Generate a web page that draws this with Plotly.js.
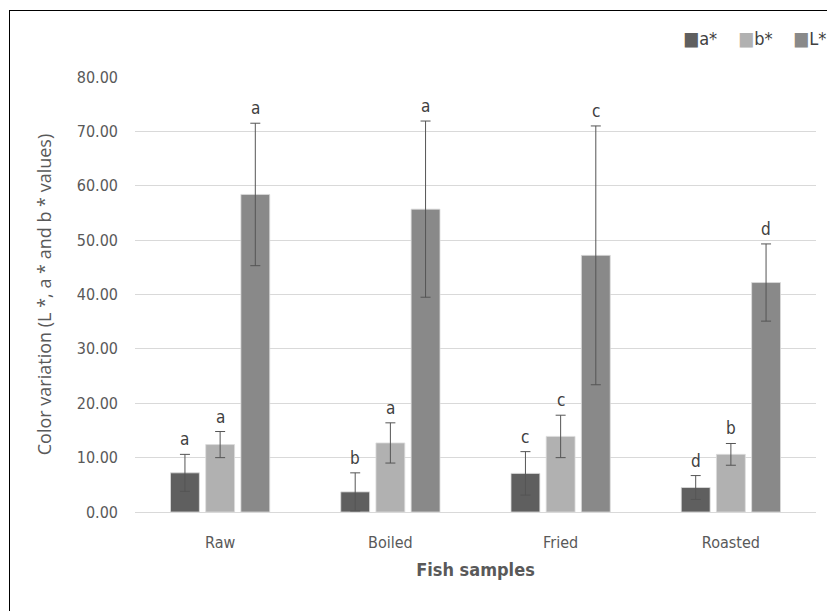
<!DOCTYPE html>
<html><head><meta charset="utf-8">
<script src="https://cdn.plot.ly/plotly-3.0.1.min.js"></script>
<style>
html,body{margin:0;padding:0;background:#fff;}
#wrap{position:relative;width:827px;height:611px;overflow:hidden;}
#chart{width:827px;height:611px;}
#frame{position:absolute;left:9px;top:10px;width:900px;height:700px;border:1px solid #000;pointer-events:none;box-sizing:border-box;}
</style></head>
<body><div id="wrap"><div id="chart"></div><div id="frame"></div></div>
<script>
const categories = ["Raw", "Boiled", "Fried", "Roasted"];
const aStar = [7.2, 3.7, 7.1, 4.5];
const aStarErr = [3.4, 3.5, 4.0, 2.2];
const bStar = [12.4, 12.7, 13.9, 10.6];
const bStarErr = [2.4, 3.7, 3.9, 2.0];
const lStar = [58.4, 55.7, 47.2, 42.2];
const lStarErr = [13.1, 16.2, 23.8, 7.1];
const aLetters = ["a", "b", "c", "d"];
const bLetters = ["a", "a", "c", "b"];
const lLetters = ["a", "a", "c", "d"];
const seriesNames = ["a*", "b*", "L*"];
const colors = ["#5f5f5f", "#b1b1b1", "#898989"];

const values = [aStar, bStar, lStar];
const errs = [aStarErr, bStarErr, lStarErr];
const letters = [aLetters, bLetters, lLetters];

const narrow = "DejaVu Sans Condensed, Liberation Sans Narrow, sans-serif";
const tickFont = {family: narrow, size: 16, color: "#595959"};

const traces = values.map((v, i) => ({
  type: "bar", name: seriesNames[i], x: categories, y: v,
  marker: {color: colors[i], line: {color: "#dcdcdc", width: 0.8}},
  error_y: {type: "data", array: errs[i], visible: true, color: "#555555", thickness: 1, width: 5}
}));

const margin = {l: 135, r: 11, t: 77, b: 99};
const plotW = 827 - margin.l - margin.r;
const bargap = 0.38, bargroupgap = 0.18;
const catW = plotW / categories.length;
const slot = catW * (1 - bargap) / 3;

const annotations = [];
values.forEach((v, i) => {
  v.forEach((val, j) => {
    annotations.push({
      x: categories[j], y: val + errs[i][j], xref: "x", yref: "y",
      text: letters[i][j], showarrow: false, yanchor: "bottom",
      xshift: (i - 1) * slot, yshift: 3,
      font: {family: narrow, size: 17, color: "#404040"}
    });
  });
});
// legend drawn as text entries at top right
const legendX = [681, 736, 791];
seriesNames.forEach((n, i) => {
  annotations.push({
    xref: "paper", yref: "paper", x: (legendX[i] - margin.l) / plotW, y: 1, yshift: 39,
    xanchor: "left", yanchor: "middle", showarrow: false,
    text: '<span style="color:' + colors[i] + ';font-size:19px">■</span>' + n,
    font: {family: narrow, size: 18, color: "#404040"}
  });
});

const layout = {
  width: 827, height: 611, margin: margin,
  paper_bgcolor: "#fff", plot_bgcolor: "#fff",
  barmode: "group", bargap: bargap, bargroupgap: bargroupgap,
  showlegend: false,
  xaxis: {tickfont: tickFont, showgrid: false, showline: false, ticks: "", ticklabelstandoff: 19,
    title: {text: "<b>Fish samples</b>", font: {family: narrow, size: 18, color: "#595959"}, standoff: 12}},
  yaxis: {range: [0, 80], dtick: 10, tickformat: ".2f", tickfont: tickFont,
    gridcolor: "#d9d9d9", gridwidth: 1, zeroline: true, zerolinecolor: "#d9d9d9", zerolinewidth: 1,
    ticks: "", ticklabelstandoff: 16, showline: false,
    title: {text: "Color variation (L *, a * and b * values)", font: {family: "Open Sans, sans-serif", size: 18, color: "#595959"}, standoff: 20}},
  annotations: annotations
};
Plotly.newPlot("chart", traces, layout, {displayModeBar: false, staticPlot: true});
</script></body></html>
